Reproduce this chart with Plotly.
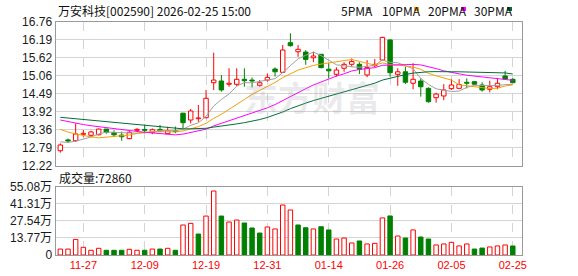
import plotly.graph_objects as go
import pandas as pd

# ---------------- data ----------------
dates = ["11-24", "11-25", "11-26", "11-27", "11-28",
         "12-01", "12-02", "12-03", "12-04", "12-05",
         "12-08", "12-09", "12-10", "12-11", "12-12",
         "12-15", "12-16", "12-17", "12-18", "12-19",
         "12-22", "12-23", "12-24", "12-25", "12-26",
         "12-29", "12-30", "12-31",
         "01-05", "01-06", "01-07", "01-08", "01-09",
         "01-12", "01-13", "01-14", "01-15", "01-16",
         "01-19", "01-20", "01-21", "01-22", "01-23",
         "01-26", "01-27", "01-28", "01-29", "01-30",
         "02-02", "02-03", "02-04", "02-05", "02-06",
         "02-09", "02-10", "02-11", "02-12", "02-13",
         "02-24", "02-25"]

opens = [12.70, 13.04, 13.015, 13.216, 13.185, 13.20, 13.38, 13.266, 13.19, 13.08,
         13.34, 13.36, 13.27, 13.37, 13.235, 13.33, 13.88, 13.665, 13.706, 13.737,
         14.837, 14.89, 14.787, 14.787, 14.944, 14.92, 14.755, 14.92, 15.267, 15.164,
         16.094, 15.81, 15.80, 15.62, 15.73, 15.26, 15.10, 15.29, 15.415, 15.415,
         15.08, 15.37, 15.55, 16.18, 15.10, 15.18, 14.82, 14.89, 14.66, 14.365,
         14.42, 14.65, 14.66, 14.85, 14.87, 14.765, 14.63, 14.71, 15.05, 14.944]
highs = [12.93, 13.08, 13.56, 13.35, 13.33, 13.40, 13.38, 13.34, 13.30, 13.31,
         13.41, 13.52, 13.40, 13.51, 13.455, 13.46, 13.89, 14.01, 14.136, 14.61,
         15.78, 15.08, 15.29, 15.29, 15.29, 15.00, 14.92, 15.13, 15.32, 16.02,
         16.39, 16.02, 15.86, 15.81, 15.73, 15.45, 15.32, 15.48, 15.60, 15.48,
         15.55, 15.58, 16.28, 16.20, 15.29, 15.34, 15.45, 14.975, 14.69, 14.52,
         14.79, 14.945, 14.95, 14.975, 14.89, 14.85, 14.90, 14.975, 15.205, 14.975]
lows = [12.64, 12.95, 12.98, 13.14, 13.13, 13.185, 13.235, 13.13, 13.015, 13.06,
        13.30, 13.25, 13.22, 13.29, 13.22, 13.25, 13.40, 13.56, 13.61, 13.72,
        14.61, 14.555, 14.71, 14.73, 14.71, 14.69, 14.71, 14.87, 15.03, 15.16,
        15.97, 15.65, 15.40, 15.48, 15.29, 14.98, 15.03, 15.18, 15.34, 15.11,
        15.01, 15.32, 15.55, 15.03, 14.74, 14.80, 14.63, 14.40, 14.21, 14.21,
        14.29, 14.61, 14.64, 14.66, 14.765, 14.555, 14.535, 14.63, 14.95, 14.84]
closes = [12.88, 13.005, 13.225, 13.247, 13.29, 13.38, 13.28, 13.20, 13.14, 13.28,
          13.37, 13.34, 13.36, 13.32, 13.33, 13.30, 13.58, 13.948, 13.728, 14.347,
          14.92, 14.61, 14.82, 14.944, 14.90, 14.89, 14.837, 15.006, 15.18, 15.864,
          16.00, 15.886, 15.57, 15.675, 15.31, 15.21, 15.236, 15.415, 15.50, 15.26,
          15.31, 15.415, 16.26, 15.15, 15.18, 14.85, 14.945, 14.71, 14.24, 14.48,
          14.61, 14.765, 14.78, 14.82, 14.79, 14.61, 14.71, 14.82, 14.95, 14.837]
# estimated closes of the 29 sessions before the window (needed for the moving averages)
closes_before = [13.70, 13.80, 13.95, 14.05, 13.98, 13.90, 13.85, 13.95, 14.02, 14.00,
                 14.10, 14.18, 14.05, 14.02, 14.02, 13.95, 13.90, 13.82, 13.80, 13.76,
                 13.85, 13.80, 13.75, 13.72, 13.68, 13.105, 13.02, 12.95, 12.945]
# volume in 万 (10,000 lots)
volumes = [4.8, 4.8, 12.6, 6.2, 3.8, 5.4, 3.8, 3.8, 3.8, 4.6,
           3.8, 3.8, 4.8, 4.8, 5.4, 3.8, 24.2, 25.5, 16.9, 31.4,
           51.6, 31.4, 26.6, 28.2, 25.8, 21.8, 17.7, 22.6, 21.0, 40.3,
           36.3, 24.2, 22.0, 21.0, 22.8, 20.2, 12.9, 13.7, 9.7, 11.3,
           8.9, 9.4, 29.9, 31.5, 15.3, 13.7, 20.2, 14.5, 12.9, 8.1,
           8.9, 10.2, 7.3, 8.9, 4.8, 5.6, 6.5, 7.3, 8.1, 7.286]

tick_labels = ["11-27", "12-09", "12-19", "12-31", "01-14", "01-26", "02-05", "02-25"]
price_tick_values = [12.22, 12.7875, 13.355, 13.9225, 14.49, 15.0575, 15.625, 16.1925, 16.76]
price_tick_labels = ["12.22", "12.79", "13.36", "13.92", "14.49", "15.06", "15.62", "16.19", "16.76"]
vol_tick_values = [0, 13.77, 27.54, 41.31, 55.08]
vol_tick_labels = ["0", "13.77万", "27.54万", "41.31万", "55.08万"]
ma_periods = [5, 10, 20, 30]
ma_names = ["5PMA", "10PMA", "20PMA", "30PMA"]
ma_colors = ["#a0a0a0", "#f5a000", "#ff00ff", "#006f35"]

title_text = "万安科技[002590] 2026-02-25 15:00"

# ---------------- layout constants ----------------
W, H = 578, 276
RED = "#ff0000"
GREEN = "#008000"
GRID = "#d4d4d4"
BORDER = "#9a9a9a"

def px_x(p):
    return p / W

def px_y(p):
    return 1 - p / H

x_dom = [px_x(55.5), px_x(522)]
price_dom = [px_y(166), px_y(21.5)]
vol_dom = [px_y(255), px_y(186.7)]
x_range = [-0.63, 60.2]

n = len(dates)
xs = list(range(n))
tick_idx = [dates.index(t) for t in tick_labels]

# ---------------- derived ----------------
all_close = pd.Series(closes_before + closes)
mas = [all_close.rolling(p).mean().iloc[-n:].tolist() for p in ma_periods]

up = [c >= o for o, c in zip(opens, closes)]
vol_up = [closes[0] >= opens[0]] + [closes[i] >= closes[i - 1] for i in range(1, n)]

fig = go.Figure()

BW = 0.58
MINH = 0.025

def body(sel, fill, line):
    idx = [i for i in xs if sel(i)]
    fig.add_trace(go.Bar(
        x=idx,
        base=[min(opens[i], closes[i]) for i in idx],
        y=[max(abs(closes[i] - opens[i]), MINH) for i in idx],
        width=BW, marker=dict(color=fill, line=dict(color=line, width=1)),
        xaxis="x", yaxis="y", hoverinfo="skip", showlegend=False))

def wicks(sel, color):
    wx, wy = [], []
    for i in xs:
        if not sel(i):
            continue
        top = max(opens[i], closes[i])
        bot = min(opens[i], closes[i])
        if highs[i] > top:
            wx += [i, i, None]
            wy += [top, highs[i], None]
        if lows[i] < bot:
            wx += [i, i, None]
            wy += [lows[i], bot, None]
    fig.add_trace(go.Scatter(x=wx, y=wy, mode="lines",
                             line=dict(color=color, width=1),
                             xaxis="x", yaxis="y", hoverinfo="skip",
                             showlegend=False))

body(lambda i: up[i], "#ffffff", RED)
body(lambda i: not up[i], GREEN, GREEN)
wicks(lambda i: up[i], RED)
wicks(lambda i: not up[i], GREEN)

for ma, col, name in zip(mas, ma_colors, ma_names):
    fig.add_trace(go.Scatter(x=xs, y=ma, mode="lines", name=name,
                             line=dict(color=col, width=1),
                             xaxis="x", yaxis="y", hoverinfo="skip",
                             showlegend=False))

vi_up = [i for i in xs if vol_up[i]]
vi_dn = [i for i in xs if not vol_up[i]]
fig.add_trace(go.Bar(x=vi_up, y=[volumes[i] for i in vi_up], width=BW,
                     marker=dict(color="#ffffff", line=dict(color=RED, width=1)),
                     xaxis="x2", yaxis="y2", hoverinfo="skip", showlegend=False))
fig.add_trace(go.Bar(x=vi_dn, y=[volumes[i] for i in vi_dn], width=BW,
                     marker=dict(color=GREEN, line=dict(color=GREEN, width=1)),
                     xaxis="x2", yaxis="y2", hoverinfo="skip", showlegend=False))

tick_font = dict(family="Liberation Sans, Arial, Noto Sans CJK SC", size=12, color="#1a1a1a")

common_x = dict(domain=x_dom, range=x_range, tickvals=tick_idx, showgrid=True,
                gridcolor=GRID, griddash="dash", gridwidth=1, zeroline=False,
                showline=True, mirror=True, linecolor=BORDER, linewidth=1,
                ticks="", automargin=False, fixedrange=True)

fig.update_layout(
    width=W, height=H, autosize=False,
    margin=dict(l=0, r=0, t=0, b=0, pad=0),
    paper_bgcolor="white", plot_bgcolor="white",
    barmode="overlay", showlegend=False,
    xaxis=dict(anchor="y", showticklabels=False, **common_x),
    xaxis2=dict(anchor="y2", showticklabels=True, ticktext=tick_labels,
                tickfont=dict(family="Liberation Sans, Arial", size=11, color=RED),
                **common_x),
    yaxis=dict(domain=price_dom, range=[price_tick_values[0], price_tick_values[-1]], anchor="x",
               tickvals=price_tick_values, ticktext=price_tick_labels, tickfont=tick_font,
               showgrid=True, gridcolor=GRID, zeroline=False, showline=True,
               mirror=True, linecolor=BORDER, ticks="", automargin=False),
    yaxis2=dict(domain=vol_dom, range=[0, vol_tick_values[-1]], anchor="x2",
                tickvals=vol_tick_values, ticktext=vol_tick_labels, tickfont=tick_font,
                showgrid=True, gridcolor=GRID, zeroline=False, showline=True,
                mirror=True, linecolor=BORDER, ticks="", automargin=False),
)

cjk = "Noto Sans CJK SC"
ann = []
# watermark
ann.append(dict(text="<b>东方财富</b>", x=px_x(312), y=px_y(96), xref="paper", yref="paper",
                showarrow=False, font=dict(family=cjk, size=34, color="rgba(160,160,170,0.22)")))
ann.append(dict(text=title_text, x=px_x(56), y=px_y(10), xref="paper", yref="paper",
                xanchor="left", yanchor="middle", showarrow=False,
                font=dict(family=cjk, size=12, color="#111")))
ann.append(dict(text=f"成交量:{volumes[-1] * 10000:.0f}", x=px_x(57), y=px_y(177),
                xref="paper", yref="paper", xanchor="left", yanchor="middle",
                showarrow=False, font=dict(family=cjk, size=12, color="#111")))

legend_x = [339, 380, 426, 472]
legend_sw = [366, 414, 461, 507]
shapes = []
for name, col, lx, sx in zip(ma_names, ma_colors, legend_x, legend_sw):
    ann.append(dict(text=name, x=px_x(lx), y=px_y(10), xref="paper", yref="paper",
                    xanchor="left", yanchor="middle", showarrow=False,
                    font=dict(family=cjk, size=12, color="#111")))
    shapes.append(dict(type="rect", xref="paper", yref="paper",
                       x0=px_x(sx), x1=px_x(sx + 5), y0=px_y(11), y1=px_y(7),
                       fillcolor=col, line=dict(width=0)))

fig.update_layout(annotations=ann, shapes=shapes)
fig.write_html("out.html")
